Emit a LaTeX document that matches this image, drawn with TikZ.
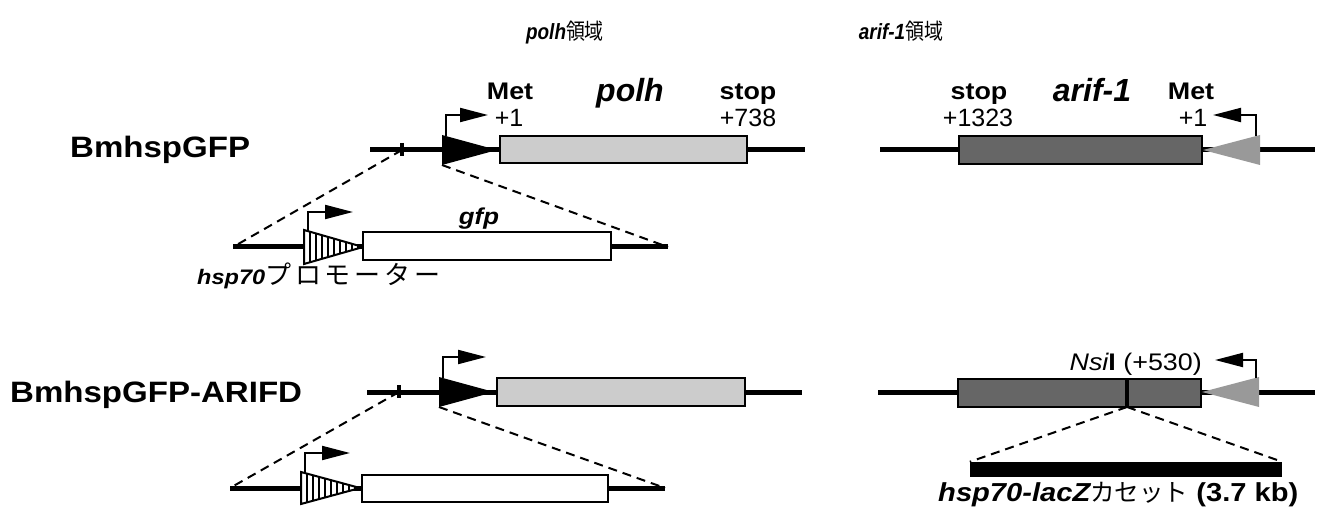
\documentclass[tikz,border=0pt]{standalone}
\usepackage{fontspec}
\setmainfont{Liberation Sans}[FakeStretch=1.12]
\newfontfamily\plainsans{Liberation Sans}
\newfontfamily\titlesans{Liberation Sans}[FakeStretch=0.86]
\newfontfamily\jpt{Noto Sans CJK JP}[FakeStretch=0.86]
\newfontfamily\jpw{Noto Sans CJK JP}[LetterSpace=15]
\newfontfamily\jpm{Noto Sans CJK JP}
\usetikzlibrary{arrows.meta}
\definecolor{lightbox}{HTML}{CCCCCC}
\definecolor{darkbox}{HTML}{666666}
\definecolor{greytri}{HTML}{999999}
\begin{document}
\begin{tikzpicture}[x=1pt,y=-1pt,
  dna/.style={line width=5pt},
  tickmark/.style={line width=3.5pt},
  genebox/.style={draw, line width=2pt, inner sep=0pt, minimum height=27pt},
  prom/.style={line width=2pt, -{Triangle[length=28pt,width=14pt]}},
  dashline/.style={line width=2pt, dash pattern=on 9pt off 6pt},
  lbl/.style={font=\fontsize{24}{24}\selectfont\bfseries, anchor=base, inner sep=0pt},
  num/.style={font=\plainsans\fontsize{25}{25}\selectfont, anchor=base, inner sep=0pt},
  gene/.style={font=\plainsans\fontsize{32}{32}\selectfont\bfseries\itshape, anchor=base, inner sep=0pt},
  title/.style={font=\titlesans\fontsize{22}{22}\selectfont, anchor=base, inner sep=0pt},
  rowlabel/.style={font=\fontsize{29.5}{29.5}\selectfont\bfseries, anchor=base west, inner sep=0pt}]
\useasboundingbox (0,0) rectangle (1321,510);

% ---------- titles ----------
\node[title] (t1) at (565,40) {\bfseries\itshape polh{\jpt\mdseries\upshape 領域}};
\node[title] (t2) at (901,40) {\bfseries\itshape arif-1{\jpt\mdseries\upshape 領域}};

% ---------- row labels ----------
\node[rowlabel] (r1) at (70,158) {BmhspGFP};
\node[rowlabel] (r2) at (10,402) {BmhspGFP-ARIFD};

% ================= TOP LEFT =================
\coordinate (a1) at (370,150); \coordinate (a2) at (805,150);
\draw[dna] (a1) -- (a2);
\coordinate (atk) at (402,150);
\draw[tickmark] (402,143) -- (402,156);
\coordinate (atri1) at (442,135); \coordinate (atri2) at (497,150); \coordinate (atri3) at (442,165);
\fill (atri1) -- (atri2) -- (atri3) -- cycle;
\node[genebox, fill=lightbox, minimum width=247pt] (polh1) at (623.5,150) {};
\coordinate (ap1) at (446,136); \coordinate (ap2) at (446,115); \coordinate (ap3) at (488,115);
\draw[prom] (ap1) -- (ap2) -- (ap3);
\node[lbl] (met1) at (510,100) {Met};
\node[num] (n1) at (509,127) {+1};
\node[gene] (g1) at (630,102) {polh};
\node[lbl] (stop1) at (748,100) {stop};
\node[num] (n738) at (748,127) {+738};

% inset top
\coordinate (b1) at (233,247); \coordinate (b2) at (668,247);
\draw[dna] (b1) -- (b2);
\draw[dashline] (atk) -- (b1);
\draw[dashline] (atri3) -- (b2);
\coordinate (h1) at (304,230); \coordinate (h2) at (363,247); \coordinate (h3) at (304,264);
\fill[white] (h1) -- (h2) -- (h3) -- cycle;
\begin{scope}
  \clip (h1) -- (h2) -- (h3) -- cycle;
  \foreach \k in {1,...,9} \draw[line width=1.2pt] (304+\k*6,225) -- (304+\k*6,270);
\end{scope}
\draw[line width=2pt, line join=miter] (h1) -- (h2) -- (h3) -- cycle;
\node[genebox, fill=white, minimum width=248pt, minimum height=28pt] (gfp1) at (487,246) {};
\coordinate (hp1) at (308,231); \coordinate (hp2) at (308,212); \coordinate (hp3) at (353,212);
\draw[prom] (hp1) -- (hp2) -- (hp3);
\node[font=\fontsize{23}{23}\selectfont\bfseries\itshape, anchor=base, inner sep=0pt] (gfplbl) at (479,225) {gfp};
\node[font=\fontsize{21}{21}\selectfont, anchor=base west, inner sep=0pt] (hsplbl) at (197,284) {\bfseries\itshape hsp70{\fontsize{26}{26}\selectfont\jpw\mdseries\upshape プロモーター}};

% ================= TOP RIGHT =================
\coordinate (c1) at (880,150); \coordinate (c2) at (1315,150);
\draw[dna] (c1) -- (c2);
\node[genebox, fill=darkbox, minimum width=243pt, minimum height=28pt] (arif1) at (1080.5,150) {};
\coordinate (ct1) at (1260,135); \coordinate (ct2) at (1203,150); \coordinate (ct3) at (1260,165);
\fill[greytri] (ct1) -- (ct2) -- (ct3) -- cycle;
\coordinate (cp1) at (1256,136); \coordinate (cp2) at (1256,115); \coordinate (cp3) at (1213,115);
\draw[prom] (cp1) -- (cp2) -- (cp3);
\node[lbl] (stop2) at (979,100) {stop};
\node[num] (n1323) at (978,127) {+1323};
\node[gene] (g2) at (1092,102) {arif-1};
\node[lbl] (met2) at (1191,100) {Met};
\node[num] (n1b) at (1193,127) {+1};

% ================= BOTTOM LEFT =================
\coordinate (d1) at (367,392); \coordinate (d2) at (802,392);
\draw[dna] (d1) -- (d2);
\coordinate (dtk) at (399,392);
\draw[tickmark] (399,385) -- (399,398);
\coordinate (dtri1) at (439,377); \coordinate (dtri2) at (494,392); \coordinate (dtri3) at (439,407);
\fill (dtri1) -- (dtri2) -- (dtri3) -- cycle;
\node[genebox, fill=lightbox, minimum width=248pt, minimum height=28pt] (polh2) at (621,392) {};
\coordinate (dp1) at (443,378); \coordinate (dp2) at (443,357); \coordinate (dp3) at (486,357);
\draw[prom] (dp1) -- (dp2) -- (dp3);

% inset bottom
\coordinate (e1) at (230,488); \coordinate (e2) at (665,488);
\draw[dna] (e1) -- (e2);
\draw[dashline] (dtk) -- (e1);
\draw[dashline] (dtri3) -- (e2);
\coordinate (k1) at (301,472); \coordinate (k2) at (360,488); \coordinate (k3) at (301,504);
\fill[white] (k1) -- (k2) -- (k3) -- cycle;
\begin{scope}
  \clip (k1) -- (k2) -- (k3) -- cycle;
  \foreach \k in {1,...,9} \draw[line width=1.2pt] (301+\k*6,465) -- (301+\k*6,510);
\end{scope}
\draw[line width=2pt, line join=miter] (k1) -- (k2) -- (k3) -- cycle;
\node[genebox, fill=white, minimum width=246pt, minimum height=27pt] (gfp2) at (485,488.5) {};
\coordinate (kp1) at (305,473); \coordinate (kp2) at (305,453); \coordinate (kp3) at (350,453);
\draw[prom] (kp1) -- (kp2) -- (kp3);

% ================= BOTTOM RIGHT =================
\coordinate (f1) at (878,392); \coordinate (f2) at (1315,392);
\draw[dna] (f1) -- (f2);
\node[genebox, fill=darkbox, minimum width=243pt, minimum height=28pt] (arif2) at (1079.5,393) {};
\coordinate (fcut1) at (1127,380); \coordinate (fcut2) at (1127,407);
\draw[line width=4pt] (fcut1) -- (fcut2);
\coordinate (ft1) at (1259,377); \coordinate (ft2) at (1202,392); \coordinate (ft3) at (1259,407);
\fill[greytri] (ft1) -- (ft2) -- (ft3) -- cycle;
\coordinate (fp1) at (1256,378); \coordinate (fp2) at (1256,360); \coordinate (fp3) at (1215,360);
\draw[prom] (fp1) -- (fp2) -- (fp3);
\node[font=\fontsize{24}{24}\selectfont, anchor=base east, inner sep=0pt] (nsi) at (1202,370) {\itshape Nsi\upshape\bfseries I\mdseries{} (+530)};
\node[fill=black, inner sep=0pt, minimum width=312pt, minimum height=15pt] (lacz) at (1126,469.5) {};
\draw[dashline] (fcut2) -- (lacz.north west);
\draw[dashline] (fcut2) -- (lacz.north east);
\node[font=\fontsize{26}{26}\selectfont, anchor=base west, inner sep=0pt] (laczlbl) at (938,501) {\bfseries\itshape hsp70-lacZ{\fontsize{24.5}{24.5}\selectfont\jpm\mdseries\upshape カセット}\normalfont\bfseries{} (3.7 kb)};
\end{tikzpicture}
\end{document}
